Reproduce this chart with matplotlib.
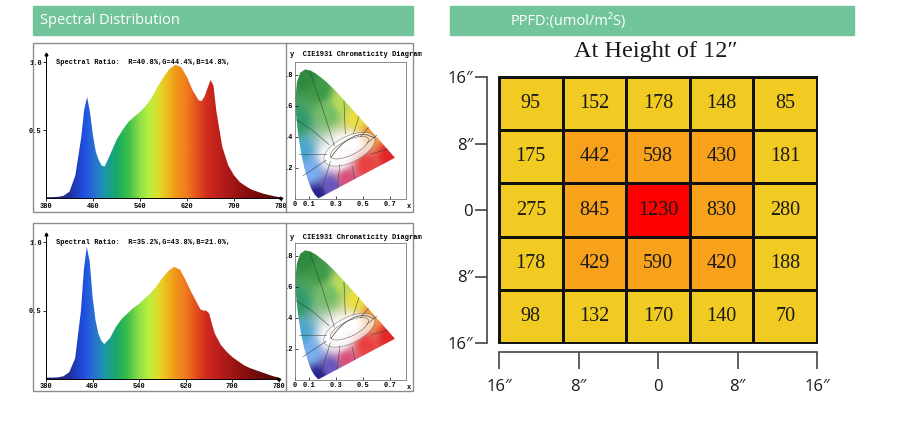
import numpy as np
import matplotlib
matplotlib.use('Agg')
import matplotlib.pyplot as plt
from matplotlib.colors import ListedColormap, BoundaryNorm, LinearSegmentedColormap, to_rgb
from matplotlib.patches import Rectangle, Polygon, Ellipse

W, H = 900, 432


def box(x0, y0, x1, y1):
    # pixel box (top-left origin) -> figure fraction rect
    return [x0 / W, 1 - y1 / H, (x1 - x0) / W, (y1 - y0) / H]


# spectral distribution, relative intensity per wavelength (nm)
wavelengths = [380, 390, 400, 410, 420, 430, 440, 445, 450, 455, 460, 465, 470, 475,
               480, 490, 500, 510, 520, 530, 540, 550, 560, 570, 580, 590, 600, 610,
               620, 630, 640, 645, 650, 655, 660, 665, 670, 680, 690, 700, 710, 720,
               730, 740, 750, 760, 770, 780]
spectrum_top = [0.01, 0.01, 0.012, 0.02, 0.05, 0.17, 0.45, 0.65, 0.745, 0.63, 0.46, 0.34, 0.28, 0.24,
                0.235, 0.33, 0.43, 0.5, 0.56, 0.6, 0.635, 0.68, 0.74, 0.82, 0.89, 0.95, 0.98, 0.965,
                0.89, 0.79, 0.72, 0.715, 0.75, 0.81, 0.87, 0.83, 0.64, 0.38, 0.245, 0.17, 0.12, 0.09,
                0.065, 0.05, 0.035, 0.025, 0.015, 0.008]
spectrum_bottom = [0.01, 0.01, 0.012, 0.02, 0.05, 0.15, 0.5, 0.8, 0.965, 0.86, 0.6, 0.43, 0.33, 0.28,
                   0.255, 0.3, 0.38, 0.44, 0.48, 0.52, 0.55, 0.59, 0.63, 0.68, 0.74, 0.79, 0.82, 0.8,
                   0.72, 0.63, 0.55, 0.51, 0.5, 0.5, 0.48, 0.4, 0.33, 0.25, 0.2, 0.16, 0.13, 0.1,
                   0.08, 0.065, 0.05, 0.035, 0.02, 0.01]
ratio_top = 'R=40.8%,G=44.4%,B=14.8%,'
ratio_bottom = 'R=35.2%,G=43.8%,B=21.0%,'
wl_ticks = [380, 460, 540, 620, 700, 780]

# CIE1931 spectral locus
locus_x = [0.1741, 0.1733, 0.1714, 0.1644, 0.1566, 0.1440, 0.1241, 0.1096, 0.0913, 0.0687,
           0.0454, 0.0235, 0.0082, 0.0039, 0.0139, 0.0389, 0.0743, 0.1142, 0.1547, 0.2296,
           0.3016, 0.3731, 0.4441, 0.5125, 0.5752, 0.6270, 0.6915, 0.7190, 0.7347]
locus_y = [0.0050, 0.0048, 0.0051, 0.0109, 0.0177, 0.0297, 0.0578, 0.0868, 0.1327, 0.2007,
           0.2950, 0.4127, 0.5384, 0.6548, 0.7502, 0.8120, 0.8338, 0.8262, 0.8059, 0.7543,
           0.6923, 0.6245, 0.5547, 0.4866, 0.4242, 0.3725, 0.3083, 0.2809, 0.2653]
planck_x = [0.5857, 0.5267, 0.4770, 0.4369, 0.3805, 0.3451, 0.3135, 0.2807, 0.2650]
planck_y = [0.3931, 0.4133, 0.4137, 0.4041, 0.3768, 0.3516, 0.3237, 0.2883, 0.2670]
region_lines = [
    [(0.11, 0.82), (0.20, 0.59), (0.29, 0.34)],
    [(0.01, 0.51), (0.13, 0.44), (0.25, 0.35)],
    [(0.03, 0.29), (0.23, 0.29)],
    [(0.06, 0.15), (0.23, 0.25)],
    [(0.18, 0.015), (0.26, 0.24)],
    [(0.31, 0.07), (0.33, 0.22)],
    [(0.44, 0.13), (0.42, 0.21)],
    [(0.56, 0.29), (0.68, 0.32)],
    [(0.53, 0.36), (0.60, 0.41)],
    [(0.48, 0.40), (0.54, 0.46)],
    [(0.43, 0.42), (0.47, 0.53)],
    [(0.37, 0.42), (0.36, 0.63)],
]
cie_xticks = [0, 0.1, 0.3, 0.5, 0.7]
cie_yticks = [0.2, 0.4, 0.6, 0.8]

# colour anchors used to paint the chromaticity diagram
cie_anchor_xy = [(0.08, 0.78), (0.18, 0.70), (0.02, 0.50), (0.05, 0.30), (0.12, 0.18),
                 (0.17, 0.02), (0.26, 0.08), (0.38, 0.13), (0.52, 0.22), (0.70, 0.28),
                 (0.56, 0.42), (0.45, 0.52), (0.34, 0.62), (0.25, 0.55), (0.33, 0.33),
                 (0.25, 0.27), (0.42, 0.36), (0.33, 0.24)]
cie_anchor_col = ['#2e8a3e', '#3c9a48', '#2f9a6a', '#4aa6d0', '#7aaef0',
                  '#26248e', '#6a58c0', '#d8507a', '#e84040', '#e02626',
                  '#f29a3a', '#e8e040', '#b8dc5a', '#74be68', '#ffffff',
                  '#ffffff', '#ffffff', '#fbf0f4']

# PPFD grid (umol/m2S) at height of 12"
ppfd = [[95, 152, 178, 148, 85],
        [175, 442, 598, 430, 181],
        [275, 845, 1230, 830, 280],
        [178, 429, 590, 420, 188],
        [98, 132, 170, 140, 70]]
pos_labels = ['16″', '8″', '0', '8″', '16″']

green = '#72C49A'
mono = ['Liberation Mono', 'DejaVu Sans Mono']

spec_cmap = LinearSegmentedColormap.from_list('spec', [
    (0.0, '#24205a'), (0.10, '#2030a0'), (0.16, '#1f4fe0'), (0.21, '#2a74d0'),
    (0.25, '#1a98a8'), (0.30, '#18a868'), (0.35, '#3cbf48'), (0.40, '#90e048'),
    (0.44, '#b8f040'), (0.48, '#dedc2a'), (0.51, '#eec020'), (0.55, '#f09a18'),
    (0.60, '#f07a20'), (0.65, '#e04a1c'), (0.69, '#d02a1e'), (0.75, '#b81c1c'),
    (0.85, '#8a1010'), (1.0, '#4a0606')])

fig = plt.figure(figsize=(9, 4.32), dpi=100)

# header bars
for x0, x1, label, tx in [(33, 413, 'Spectral Distribution', 40), (450, 854, 'PPFD:(umol/m²S)', 511)]:
    fig.patches.append(Rectangle((x0 / W, 1 - 35 / H), (x1 - x0) / W, 29 / H,
                                 transform=fig.transFigure, color=green, zorder=0))
    fig.text(tx / W, 1 - 21 / H, label, color='white', fontsize=10.5,
             family=['Open Sans', 'DejaVu Sans'], va='center')

# panel frames
for top, bot in [(43, 212), (223, 391)]:
    fig.patches.append(Rectangle((33 / W, 1 - bot / H), 380 / W, (bot - top) / H,
                                 transform=fig.transFigure, fill=False, ec='#8c8c8c', lw=1))
    fig.lines.append(plt.Line2D([286 / W, 286 / W], [1 - bot / H, 1 - top / H],
                                transform=fig.transFigure, color='#8c8c8c', lw=1))


def spectrum_panel(rect, values, ratio):
    ax = fig.add_axes(box(*rect))
    ax.set_xlim(380, 780)
    ax.set_ylim(0, 1.06)
    grad = np.linspace(380, 780, 800).reshape(1, -1)
    im = ax.imshow(grad, extent=(380, 780, 0, 1.06), aspect='auto', cmap=spec_cmap,
                   vmin=380, vmax=780, origin='lower')
    fill = ax.fill_between(wavelengths, values, 0, color='none')
    im.set_clip_path(fill.get_paths()[0], ax.transData)
    for s in ['top', 'right']:
        ax.spines[s].set_visible(False)
    for s in ['left', 'bottom']:
        ax.spines[s].set_linewidth(0.7)
    ax.set_xticks(wl_ticks)
    ax.set_xticklabels([str(t) for t in wl_ticks])
    ax.set_yticks([0.5, 1.0])
    ax.set_yticklabels(['0.5', '1.0'])
    ax.tick_params(length=2, width=0.6, pad=1, labelsize=5)
    for lab in ax.get_xticklabels() + ax.get_yticklabels():
        lab.set_family(mono)
        lab.set_weight('bold')
    ax.plot(0, 1, '^', ms=2, color='black', transform=ax.transAxes, clip_on=False)
    ax.plot(1, 0, '>', ms=2, color='black', transform=ax.transAxes, clip_on=False)
    ax.text(397, 1.0, 'Spectral Ratio:  ' + ratio, fontsize=5, family=mono,
            weight='bold', va='center')


def cie_image():
    # inverse-distance blend of the colour anchors over the xy plane
    gx, gy = np.meshgrid(np.linspace(0, 0.82, 260), np.linspace(0.0, 0.9, 260))
    cols = np.array([to_rgb(c) for c in cie_anchor_col])
    num = np.zeros(gx.shape + (3,))
    den = np.zeros(gx.shape)
    for (ax_, ay_), c in zip(cie_anchor_xy, cols):
        w = 1.0 / (((gx - ax_) ** 2 + (gy - ay_) ** 2) + 1e-4) ** 1.6
        num += w[:, :, None] * c
        den += w
    return np.clip(num / den[:, :, None], 0, 1)


cie_rgb = cie_image()


def cie_panel(rect, title_y):
    ax = fig.add_axes(box(*rect))
    ax.set_xlim(0, 0.816)
    ax.set_ylim(0, 0.881)
    poly = Polygon(list(zip(locus_x, locus_y)), closed=True, fc='none', ec='none')
    ax.add_patch(poly)
    im = ax.imshow(cie_rgb, extent=(0, 0.82, 0.0, 0.9), origin='lower', aspect='auto',
                   interpolation='bilinear')
    im.set_clip_path(poly)
    ax.add_patch(Ellipse((0.40, 0.32), 0.40, 0.17, angle=22, fc='white', alpha=0.6,
                         ec='#555555', lw=0.5))
    ax.add_patch(Ellipse((0.40, 0.33), 0.30, 0.10, angle=22, fc='none',
                         ec='#666666', lw=0.4))
    ax.plot(planck_x, planck_y, color='#444444', lw=0.5)
    for seg in region_lines:
        xs, ys = zip(*seg)
        ax.plot(xs, ys, color='#3a3a3a', lw=0.45, alpha=0.8)
    for s in ax.spines.values():
        s.set_linewidth(0.6)
        s.set_color('#777777')
    ax.set_xticks(cie_xticks)
    ax.set_xticklabels(['0', '0.1', '0.3', '0.5', '0.7'])
    ax.set_yticks(cie_yticks)
    ax.set_yticklabels(['.2', '.4', '.6', '.8'])
    ax.tick_params(direction='in', length=2, width=0.5, pad=1.5, labelsize=5)
    for lab in ax.get_xticklabels() + ax.get_yticklabels():
        lab.set_family(mono)
        lab.set_weight('bold')
    ax.text(1.01, -0.03, 'x', transform=ax.transAxes, fontsize=5, family=mono,
            weight='bold', va='top')
    fig.text(290 / W, 1 - title_y / H, 'y  CIE1931 Chromaticity Diagram', fontsize=5,
             family=mono, weight='bold', va='center')


spectrum_panel((46, 54, 281, 198.5), spectrum_top, ratio_top)
spectrum_panel((46, 234, 279, 379), spectrum_bottom, ratio_bottom)
cie_panel((295, 62, 406, 199), 55)
cie_panel((295, 243, 406, 380), 237)

# PPFD heatmap
ax = fig.add_axes(box(499, 77, 817, 343))
cmap = ListedColormap(['#F1CB22', '#F8A11B', '#FF0000'])
norm = BoundaryNorm([0, 400, 1000, 2000], cmap.N)
ax.pcolormesh(np.array(ppfd), cmap=cmap, norm=norm, edgecolors='#111111', linewidth=0.9)
ax.add_patch(Rectangle((0, 0), 5, 5, fill=False, ec='#111111', lw=1.4, clip_on=False))
ax.set_xlim(0, 5)
ax.set_ylim(5, 0)
for i, row in enumerate(ppfd):
    for j, v in enumerate(row):
        ax.text(j + 0.5, i + 0.5, str(v), ha='center', va='center', fontsize=14.5,
                family=['Liberation Serif', 'DejaVu Serif'], color='#1a1a1a')
tick_pos = [0, 1.25, 2.5, 3.75, 5]
ax.set_xticks(tick_pos)
ax.set_xticklabels(pos_labels)
ax.set_yticks(tick_pos)
ax.set_yticklabels(pos_labels)
ax.spines['top'].set_visible(False)
ax.spines['right'].set_visible(False)
ax.spines['left'].set_position(('outward', 8.6))
ax.spines['bottom'].set_position(('outward', 6.5))
for s in ['left', 'bottom']:
    ax.spines[s].set_linewidth(1.2)
    ax.spines[s].set_color('#444444')
ax.tick_params(axis='y', length=8.6, width=1.2, color='#444444', pad=1.5, labelsize=12)
ax.tick_params(axis='x', length=12.2, width=1.2, color='#444444', pad=7, labelsize=12)
for lab in ax.get_xticklabels() + ax.get_yticklabels():
    lab.set_family(['Open Sans', 'DejaVu Sans'])
    lab.set_color('#1a1a1a')

fig.text(656 / W, 1 - 52 / H, 'At Height of 12″', ha='center', va='center', fontsize=17.5,
         family=['Liberation Serif', 'DejaVu Serif'], color='#1a1a1a')

fig.savefig('out.png', dpi=100)
